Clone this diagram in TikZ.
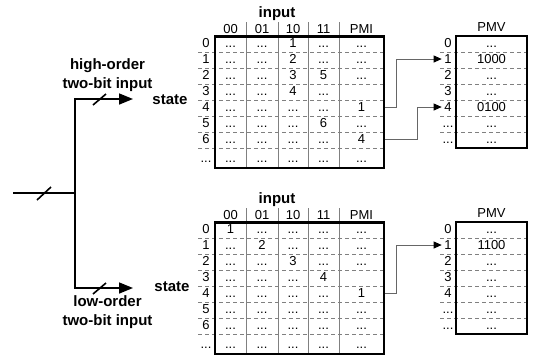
\documentclass[tikz,border=0pt]{standalone}
\usepackage{fontspec}
\setmainfont{Liberation Sans}
\usetikzlibrary{arrows.meta}

\newcommand{\dts}{...}

\begin{document}
\begin{tikzpicture}[
    x=1pt, y=-1pt,
    % textos das tabelas
    txt/.style={
        font=\fontsize{13}{15}\selectfont,
        inner sep=0pt,
        anchor=base,
        text height=9pt,
        text depth=0pt
    },
    rowlbl/.style={txt, inner xsep=2.5pt},
    % rotulos em negrito
    lbl/.style={
        font=\fontsize{15}{19}\selectfont\bfseries,
        align=center
    },
    tabbox/.style={draw, line width=2.5pt, inner sep=0pt},
    sepline/.style={draw=gray, line width=0.8pt},
    dashline/.style={sepline, dash pattern=on 4pt off 3pt},
    bus/.style={draw, line width=1.6pt},
    busarrow/.style={bus, -{Triangle[length=14pt, width=11pt]}},
    link/.style={draw=gray!80!black, line width=0.9pt,
        -{Triangle[length=8pt, width=7pt, color=black]}}
]
\useasboundingbox (0,0) rectangle (533,357);

% ---- ENTRADA E DIVISAO DO BARRAMENTO ----
\coordinate (inL)   at (13,193);
\coordinate (split) at (75,193);
\coordinate (hiEnd) at (133,99);
\coordinate (loEnd) at (133,288);

\draw[bus]      (inL) -- (split);
\draw[busarrow] (split) |- (hiEnd);
\draw[busarrow] (split) |- (loEnd);

\draw[bus] (37,200) -- (51,187);
\draw[bus] (93,105) -- (106,94);
\draw[bus] (93,294) -- (106,283);

\node[lbl] (hiLbl) at (107.5,75) {high-order\\two-bit input};
\node[lbl] (loLbl) at (107.5,312) {low-order\\two-bit input};
\node[lbl, anchor=base] (stA) at (170,104) {state};
\node[lbl, anchor=base] (stB) at (172,291) {state};

% ---- GRADES DAS TABELAS (A: alta ordem, B: baixa ordem) ----
\foreach \t/\dy in {A/0, B/186} {
  \begin{scope}[yshift=-\dy pt]
    \foreach \yy in {52,68,84,100,116,132,148.5}
      \draw[dashline] (198,\yy) -- (384,\yy);
    \foreach \xx in {246,278,308,339}
      \draw[sepline] (\xx,22) -- (\xx,168);
    \foreach \yy in {52,68,84,100,116,132}
      \draw[dashline] (440,\yy) -- (527,\yy);
    \node[tabbox, minimum width=169pt, minimum height=131.5pt] (tab\t) at (299.5,102.25) {};
    \node[tabbox, minimum width=71pt, minimum height=112pt] (pmv\t) at (491.5,92) {};
    \node[lbl, anchor=base] (in\t) at (277,17) {input};
    \foreach \c/\xx/\h in {1/230.5/00, 2/262/01, 3/293/10, 4/323.5/11, 5/361.5/PMI}
      \node[txt] (h\t\c) at (\xx,33) {\h};
    \node[txt] (hp\t) at (491.5,31) {PMV};
    \foreach \r/\yy/\l in {0/47.5/0, 1/63.5/1, 2/79.5/2, 3/95.5/3, 4/111.5/4,
                          5/127.5/\dts, 6/143.5/\dts}
      \node[rowlbl] (l\t\r) at (448,\yy) {\l};
  \end{scope}
}

% ---- TABELA A ----
\foreach \r/\yy/\l/\a/\b/\c/\d/\e in {
    0/47.5/0/\dts/\dts/1/\dts/\dts,
    1/63.5/1/\dts/\dts/2/\dts/\dts,
    2/79.5/2/\dts/\dts/3/5/\dts,
    3/95.5/3/\dts/\dts/4/\dts/{},
    4/111.5/4/\dts/\dts/\dts/\dts/1,
    5/127.5/5/\dts/\dts/\dts/6/\dts,
    6/143.5/6/\dts/\dts/\dts/\dts/4,
    7/162/\dts/\dts/\dts/\dts/\dts/\dts} {
  \node[rowlbl] (rA\r) at (206,\yy) {\l};
  \node[txt] (cA\r-1) at (230.5,\yy) {\a};
  \node[txt] (cA\r-2) at (262,\yy) {\b};
  \node[txt] (cA\r-3) at (293,\yy) {\c};
  \node[txt] (cA\r-4) at (323.5,\yy) {\d};
  \node[txt] (cA\r-5) at (361.5,\yy) {\e};
}
\foreach \r/\yy/\v in {0/47.5/\dts, 1/63.5/1000, 2/79.5/\dts, 3/95.5/\dts,
                       4/111.5/0100, 5/127.5/\dts, 6/143.5/\dts}
  \node[txt] (pA\r) at (491.5,\yy) {\v};

% ---- TABELA B ----
\begin{scope}[yshift=-186pt]
\foreach \r/\yy/\l/\a/\b/\c/\d/\e in {
    0/47.5/0/1/\dts/\dts/\dts/\dts,
    1/63.5/1/\dts/2/\dts/\dts/\dts,
    2/79.5/2/\dts/\dts/3/\dts/\dts,
    3/95.5/3/\dts/\dts/\dts/4/{},
    4/111.5/4/\dts/\dts/\dts/\dts/1,
    5/127.5/5/\dts/\dts/\dts/\dts/\dts,
    6/143.5/6/\dts/\dts/\dts/\dts/\dts,
    7/162/\dts/\dts/\dts/\dts/\dts/\dts} {
  \node[rowlbl] (rB\r) at (206,\yy) {\l};
  \node[txt] (cB\r-1) at (230.5,\yy) {\a};
  \node[txt] (cB\r-2) at (262,\yy) {\b};
  \node[txt] (cB\r-3) at (293,\yy) {\c};
  \node[txt] (cB\r-4) at (323.5,\yy) {\d};
  \node[txt] (cB\r-5) at (361.5,\yy) {\e};
}
\foreach \r/\yy/\v in {0/47.5/\dts, 1/63.5/1100, 2/79.5/\dts, 3/95.5/\dts,
                       4/111.5/\dts, 5/127.5/\dts, 6/143.5/\dts}
  \node[txt] (pB\r) at (491.5,\yy) {\v};
\end{scope}

% ---- LIGACOES PMI -> PMV ----
\draw[link] (tabA.east |- cA4-5) -- ++(11,0) |- (lA1.west);
\draw[link] (tabA.east |- cA6-5) -- ++(32,0) |- (lA4.west);
\draw[link] (tabB.east |- cB4-5) -- ++(11,0) |- (lB1.west);

\end{tikzpicture}
\end{document}
